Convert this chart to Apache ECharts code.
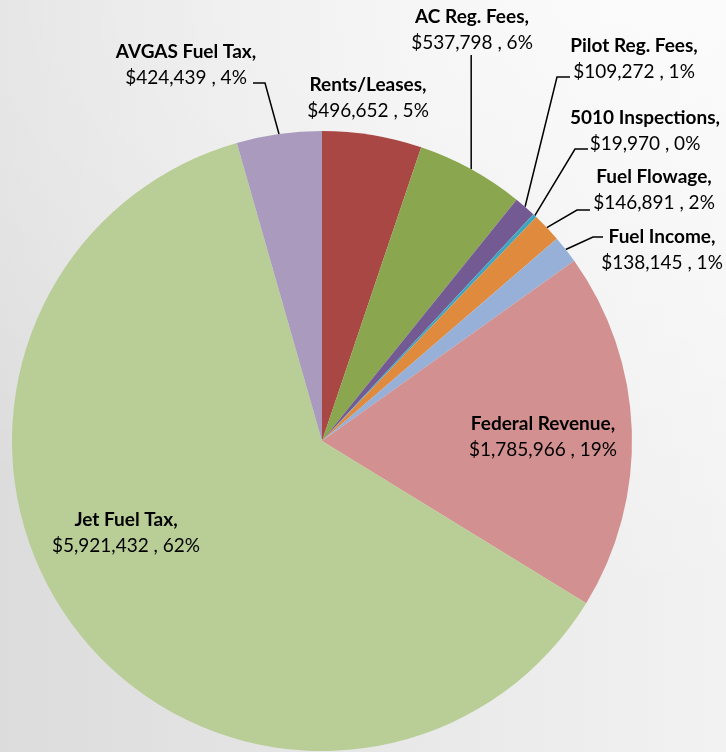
<!DOCTYPE html>
<html>
<head>
<meta charset="utf-8">
<script src="https://cdn.jsdelivr.net/npm/echarts@6/dist/echarts.min.js"></script>
<style>
html,body{margin:0;padding:0;}
#chart{width:726px;height:752px;background:
 radial-gradient(ellipse 1000px 600px at 85% 0%, rgba(255,255,255,0.75), rgba(255,255,255,0) 100%),
 linear-gradient(90deg,#dcdcdc,#f2f2f2);}
</style>
</head>
<body>
<div id="chart"></div>
<script>
// ---- data ----
const categories = ['Rents/Leases', 'AC Reg. Fees', 'Pilot Reg. Fees', '5010 Inspections', 'Fuel Flowage', 'Fuel Income', 'Federal Revenue', 'Jet Fuel Tax', 'AVGAS Fuel Tax'];
const revenue = [496652, 537798, 109272, 19970, 146891, 138145, 1785966, 5921432, 424439];

// ---- style ----
const sliceColors = ['#A94745', '#8AA64E', '#735A92', '#3FA6C2', '#E08A3E', '#96B0D8', '#D39090', '#B9CE96', '#A99ABE'];
const showGuide = [false, true, true, true, true, true, false, false, true];
// label block centres (px) and leader-line bends (px)
const labelCenters = [[368, 98], [472, 29.5], [634, 59], [645, 130.5], [654, 190], [662, 250], [543, 437], [126, 533], [186, 64.5]];
const guideBends = [null, 'v55', [[557, 77], [570, 77]], [[575, 149], [588, 149]], [[577, 210], [590, 210]], [[593, 237], [603, 237]], null, null, [[265, 83], [253, 83]]];

const total = revenue.reduce((a, b) => a + b, 0);

const chart = echarts.init(document.getElementById('chart'), null, {renderer: 'canvas'});
chart.setOption({
  backgroundColor: 'transparent',
  animation: false,
  series: [{
    type: 'pie',
    center: [322, 441],
    radius: 310,
    startAngle: 90,
    clockwise: true,
    avoidLabelOverlap: false,
    emphasis: {disabled: true},
    itemStyle: {borderWidth: 0},
    data: categories.map((name, i) => ({
      name: name,
      value: revenue[i],
      itemStyle: {color: sliceColors[i]},
      labelLine: {show: showGuide[i]}
    })),
    label: {
      show: true,
      position: 'outside',
      align: 'center',
      formatter: function (p) {
        const v = revenue[p.dataIndex];
        const pct = Math.round(v / total * 100);
        return '{b|' + p.name + ',}\n{v|$' + v.toLocaleString('en-US') + ' , ' + pct + '%}';
      },
      rich: {
        b: {fontFamily: 'Lato', fontWeight: 'bold', fontSize: 19, lineHeight: 26, color: '#000', align: 'center'},
        v: {fontFamily: 'Lato', fontSize: 19, lineHeight: 26, color: '#000', align: 'center'}
      }
    },
    labelLine: {
      show: true,
      smooth: false,
      lineStyle: {color: '#000', width: 1.5}
    },
    labelLayout: function (params) {
      const i = params.dataIndex;
      const c = labelCenters[i];
      const out = {x: c[0], y: c[1], align: 'center', verticalAlign: 'middle'};
      const pts = params.labelLinePoints;
      const g = guideBends[i];
      if (pts && pts.length && g) {
        const p0 = pts[0];
        if (g === 'v55') {
          out.labelLinePoints = [p0, [p0[0], 55], [p0[0], 55]];
        } else {
          out.labelLinePoints = [p0, g[0], g[1]];
        }
      }
      return out;
    }
  }]
});
</script>
</body>
</html>
